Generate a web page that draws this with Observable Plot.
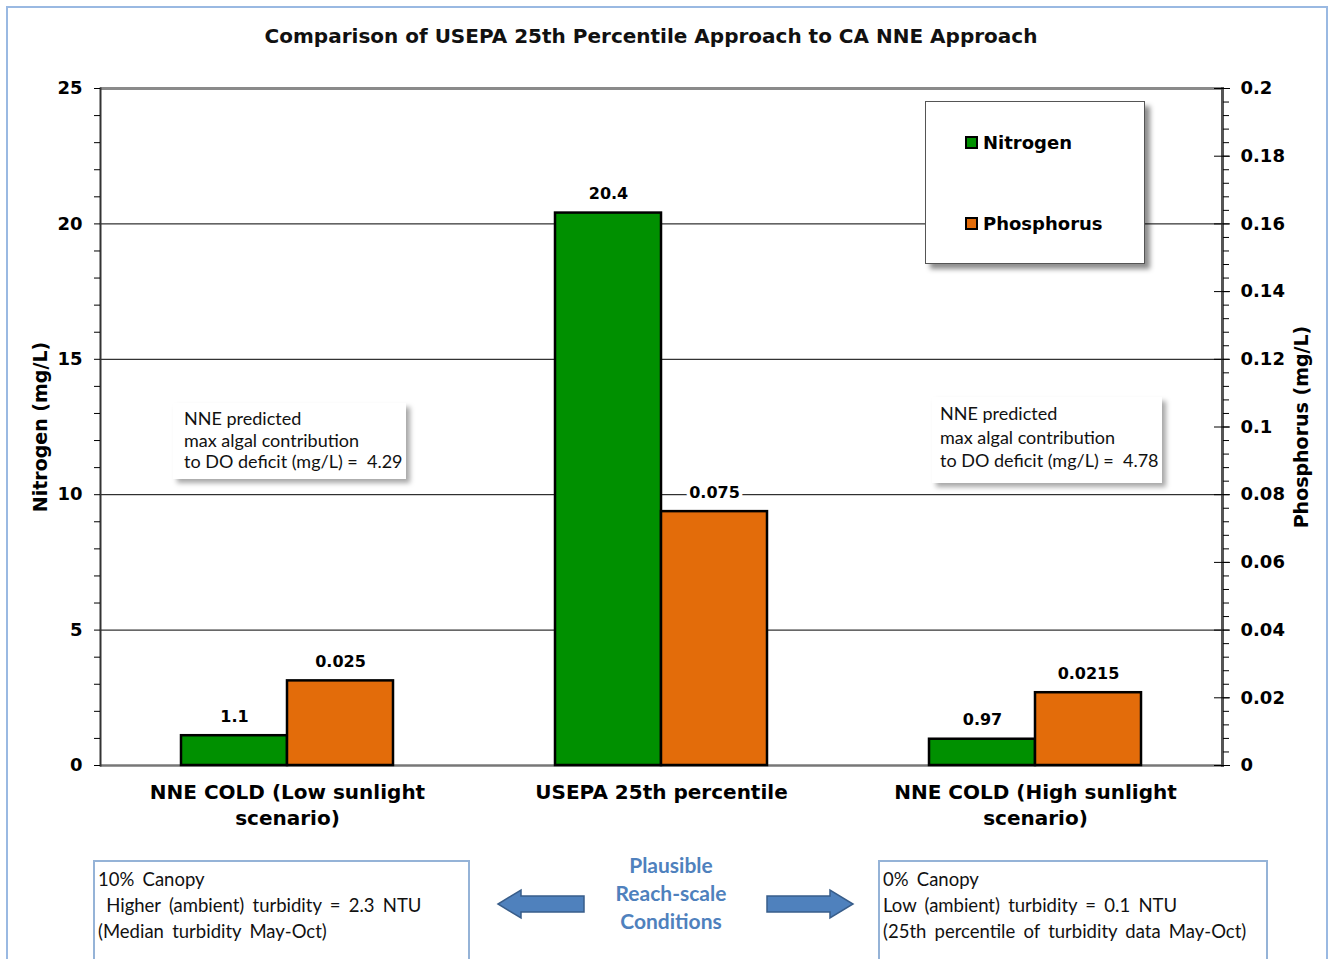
<!DOCTYPE html>
<html>
<head>
<meta charset="utf-8">
<script src="https://cdn.jsdelivr.net/npm/d3@7"></script>
<script src="https://cdn.jsdelivr.net/npm/@observablehq/plot@0.6"></script>
<style>
  html, body { margin: 0; padding: 0; background: #fff; }
  #wrap { position: relative; width: 1332px; height: 959px; overflow: hidden; background: #fff; }
  .abs { position: absolute; }
  #outer { left: 6px; top: 6px; width: 1318px; height: 1000px; border: 2px solid #9ab9e2; }
  #title { left: 0; width: 1302px; top: 24px; text-align: center; font: bold 20px "DejaVu Sans", sans-serif; color: #111; white-space: nowrap; }
  .ytitle { font: bold 19px "DejaVu Sans", sans-serif; color: #000; white-space: nowrap; transform-origin: center; }
  #legend { left: 925px; top: 101px; width: 218px; height: 161px; border: 1px solid #555; background: #fff; box-shadow: 5px 5px 5px rgba(0,0,0,0.45); }
  .lrow { position: absolute; left: 39px; font: bold 18px "DejaVu Sans", sans-serif; color: #000; display: flex; align-items: center; white-space: nowrap; }
  .sw { width: 9px; height: 9px; border: 2px solid #000; margin-right: 5px; }
  .note { background: #fff; box-shadow: 4px 4px 5px rgba(0,0,0,0.35); font: 18px Lato, sans-serif; color: #111; line-height: 21.5px; white-space: pre; }
  .cond { border: 2px solid #95b3d7; background: #fff; font: 18.5px Lato, sans-serif; color: #111; line-height: 26px; white-space: pre; word-spacing: 3.5px; padding: 4px 3px; box-sizing: border-box; }
  #plaus { left: 571px; width: 200px; top: 851px; text-align: center; font: bold 21px Lato, sans-serif; color: #4f81bd; line-height: 28px; }
</style>
</head>
<body>
<div id="wrap">
  <div id="outer" class="abs"></div>
  <div id="chart" class="abs" style="left:0;top:0;"></div>
  <div id="title" class="abs"></div>
  <div id="ytitleL" class="abs ytitle"></div>
  <div id="ytitleR" class="abs ytitle"></div>
  <div id="legend" class="abs"></div>
  <div id="noteL" class="abs note" style="left:173px;top:403px;width:233px;height:76px;"><div style="padding:5px 0 0 11px"></div></div>
  <div id="noteR" class="abs note" style="left:932px;top:397px;width:230px;height:86px;line-height:23.5px;"><div style="padding:5px 0 0 8px"></div></div>
  <div id="condL" class="abs cond" style="left:93px;top:860px;width:377px;height:120px;"></div>
  <div id="condR" class="abs cond" style="left:878px;top:860px;width:390px;height:120px;"></div>
  <svg class="abs" style="left:0;top:0" width="1332" height="959">
    <polygon points="584,896 521,896 521,890 498,904 521,918 521,912 584,912" fill="#4f81bd" stroke="#385d8a" stroke-width="1.5"/>
    <polygon points="767,896 830,896 830,890 853,904 830,918 830,912 767,912" fill="#4f81bd" stroke="#385d8a" stroke-width="1.5"/>
  </svg>
  <div id="plaus" class="abs"></div>
</div>
<script>
// ---- data ----
const titleText = "Comparison of USEPA 25th Percentile Approach to CA NNE Approach";
const categories = ["NNE COLD (Low sunlight scenario)", "USEPA 25th percentile", "NNE COLD (High sunlight scenario)"];
const categoryLabels = ["NNE COLD (Low sunlight\nscenario)", "USEPA 25th percentile", "NNE COLD (High sunlight\nscenario)"];
const seriesNames = ["Nitrogen", "Phosphorus"];
const seriesColors = ["#009000", "#e36c0a"];
const nitrogen = [1.1, 20.4, 0.97];
const phosphorus = [0.025, 0.075, 0.0215];
const nitrogenLabels = ["1.1", "20.4", "0.97"];
const phosphorusLabels = ["0.025", "0.075", "0.0215"];
const nitrogenTicks = [0, 5, 10, 15, 20, 25];
const phosphorusTicks = [0, 0.02, 0.04, 0.06, 0.08, 0.1, 0.12, 0.14, 0.16, 0.18, 0.2];
const phosphorusTickLabels = ["0", "0.02", "0.04", "0.06", "0.08", "0.1", "0.12", "0.14", "0.16", "0.18", "0.2"];
const nitrogenMax = 25, phosphorusMax = 0.2;
const leftAxisTitle = "Nitrogen (mg/L)";
const rightAxisTitle = "Phosphorus (mg/L)";
const noteLeft = ["NNE predicted", "max algal contribution", "to DO deficit (mg/L) =  4.29"];
const noteRight = ["NNE predicted", "max algal contribution", "to DO deficit (mg/L) =  4.78"];
const condLeft = ["10% Canopy", " Higher (ambient) turbidity = 2.3 NTU", "(Median turbidity May-Oct)"];
const condRight = ["0% Canopy", "Low (ambient) turbidity = 0.1 NTU", "(25th percentile of turbidity data May-Oct)"];
const plausible = ["Plausible", "Reach-scale", "Conditions"];

// ---- build table ----
const ratio = nitrogenMax / phosphorusMax;
const rows = [];
categories.forEach((c, i) => {
  rows.push({cat: c, series: "Nitrogen", value: nitrogen[i], label: nitrogenLabels[i]});
  rows.push({cat: c, series: "Phosphorus", value: phosphorus[i] * ratio, label: phosphorusLabels[i]});
});
const labelOf = Object.fromEntries(categories.map((c, i) => [c, categoryLabels[i]]));
const leftMinor = d3.range(0, nitrogenMax + 0.001, 1);
const rightMajor = phosphorusTicks.map(v => v * ratio);
const rightMinor = d3.range(0, phosphorusMax + 1e-9, 0.004).map(v => v * ratio);
const rightLabelOf = new Map(rightMajor.map((v, i) => [v, phosphorusTickLabels[i]]));
const grid = nitrogenTicks.slice(1, -1);

const plot = Plot.plot({
  width: 1332,
  height: 850,
  marginLeft: 100,
  marginRight: 110,
  marginTop: 88,
  marginBottom: 85,
  style: {background: "none", fontFamily: "'DejaVu Sans', sans-serif", color: "#000", overflow: "visible"},
  fx: {domain: categories, padding: 0, label: null},
  x: {domain: seriesNames, paddingInner: 0, paddingOuter: 0.755, axis: null},
  y: {domain: [0, nitrogenMax], label: null},
  color: {domain: seriesNames, range: seriesColors},
  marks: [
    Plot.ruleY(grid, {stroke: "#000", strokeWidth: 1}),
    Plot.ruleY([nitrogenMax], {stroke: "#8a8a8a", strokeWidth: 3}),
    Plot.ruleY([0], {stroke: "#777", strokeWidth: 2.5}),
    Plot.frame({anchor: "left", facetAnchor: "left", stroke: "#333", strokeWidth: 2}),
    Plot.frame({anchor: "right", facetAnchor: "right", stroke: "#555", strokeWidth: 3}),
    Plot.barY(rows, {fx: "cat", x: "series", y: "value", fill: "series", stroke: "#000", strokeWidth: 2.5}),
    Plot.text(rows, {fx: "cat", x: "series", y: "value", text: "label", dy: -19, fontSize: 16, fontWeight: "bold", fill: "#000", stroke: "#fff", strokeWidth: 7, paintOrder: "stroke"}),
    Plot.axisY({anchor: "left", ticks: leftMinor, tickSize: 6, tickPadding: 12, fontSize: 18, fontWeight: "bold", label: null,
      tickFormat: d => (d % 5 === 0 ? String(d) : "")}),
    Plot.axisY({anchor: "right", ticks: rightMinor, tickSize: 6, tickFormat: () => "", label: null}),
    Plot.axisY({anchor: "right", ticks: rightMajor, tickSize: 7, tickPadding: 11, fontSize: 18, fontWeight: "bold", label: null,
      tickFormat: d => rightLabelOf.get(d) ?? ""}),
    Plot.axisY({anchor: "right", ticks: rightMajor, tickSize: -9, tickFormat: () => "", label: null}),
    Plot.axisFx({anchor: "bottom", tickSize: 0, tickPadding: 15, fontSize: 20, fontWeight: "bold", lineHeight: 1.3, label: null,
      tickFormat: d => labelOf[d]})
  ]
});
document.getElementById("chart").appendChild(plot);

// ---- text overlays ----
document.getElementById("title").textContent = titleText;
const yl = document.getElementById("ytitleL");
yl.textContent = leftAxisTitle;
yl.style.left = "40px"; yl.style.top = "427px";
yl.style.transform = "translate(-50%,-50%) rotate(-90deg)";
const yr = document.getElementById("ytitleR");
yr.textContent = rightAxisTitle;
yr.style.left = "1301px"; yr.style.top = "427px";
yr.style.transform = "translate(-50%,-50%) rotate(-90deg)";

const leg = document.getElementById("legend");
seriesNames.forEach((s, i) => {
  const r = document.createElement("div");
  r.className = "lrow";
  r.style.top = (i === 0 ? 30 : 111) + "px";
  const sw = document.createElement("div");
  sw.className = "sw"; sw.style.background = seriesColors[i];
  r.appendChild(sw);
  r.appendChild(document.createTextNode(s));
  leg.appendChild(r);
});
document.querySelector("#noteL div").textContent = noteLeft.join("\n");
document.querySelector("#noteR div").textContent = noteRight.join("\n");
document.getElementById("condL").textContent = condLeft.join("\n");
document.getElementById("condR").textContent = condRight.join("\n");
document.getElementById("plaus").innerHTML = plausible.join("<br>");
</script>
</body>
</html>
